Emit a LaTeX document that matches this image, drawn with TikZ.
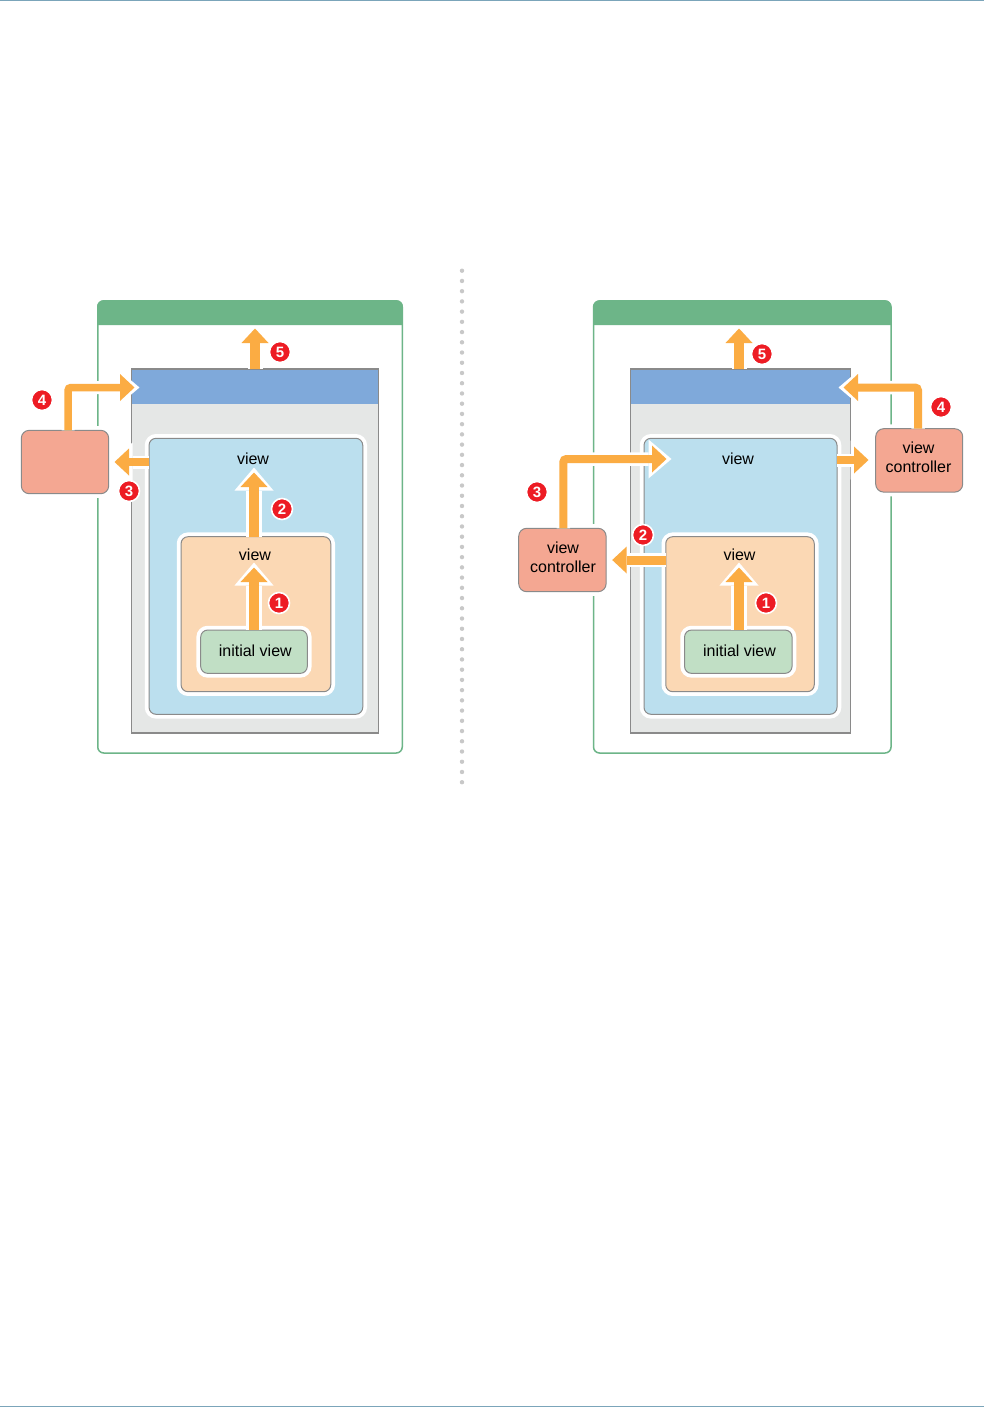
\documentclass[tikz,border=0pt]{standalone}
\usepackage{fontspec}
\setmainfont{Liberation Sans}
\usetikzlibrary{arrows.meta}
\definecolor{winG}{HTML}{6DB588}
\definecolor{edgeG}{HTML}{8A8A8A}
\definecolor{panelG}{HTML}{E5E7E6}
\definecolor{barB}{HTML}{7FA9DA}
\definecolor{viewB}{HTML}{BBDFEE}
\definecolor{viewO}{HTML}{FBD8B4}
\definecolor{viewG}{HTML}{C1DFC5}
\definecolor{ctrlR}{HTML}{F4A792}
\definecolor{flowO}{HTML}{FBAC43}
\definecolor{badgeR}{HTML}{ED1C24}
\definecolor{ruleB}{HTML}{7BA5BA}
\definecolor{dotG}{HTML}{C8C8C8}
\tikzset{
  sized/.style 2 args={minimum width=#1, minimum height=#2, inner sep=0pt, outer sep=0pt},
  winbox/.style={draw=winG, line width=1.5pt, fill=white, rounded corners=6pt},
  panelbox/.style={draw=edgeG, line width=1.2pt, fill=panelG},
  barbox/.style={fill=barB},
  haloed/.style={draw=edgeG, line width=1pt, rounded corners=7pt,
    preaction={draw=white, line width=8.5pt, rounded corners=7pt}},
  ctrlbox/.style={haloed, fill=ctrlR, rounded corners=8pt},
  label/.style={font=\fontsize{16}{19}\selectfont, align=center, inner sep=0pt},
  badge/.style={circle, fill=badgeR, draw=white, line width=1.6pt, minimum size=21pt, inner sep=0pt,
    text=white, font=\bfseries\fontsize{15}{15}\selectfont},
  flowhalo/.style={white, line width=#1+5.5pt, rounded corners=3pt, shorten >=-4.5pt,
    -{Triangle[width=39pt,length=23pt,line width=0pt]}},
  flowline/.style={flowO, line width=#1, rounded corners=3pt, shorten >=0.5pt,
    -{Triangle[width=27pt,length=14.5pt,line width=0pt]}},
}
\newcommand{\flowpath}[2]{%
  \draw[flowhalo=#1] #2;
  \draw[flowline=#1] #2;
}
\begin{document}
\begin{tikzpicture}[x=1pt,y=-1pt]
\useasboundingbox (0,0) rectangle (984,1407);
\fill[white] (0,0) rectangle (984,1407);
\fill[ruleB] (0,0) rectangle (984,1);
\fill[ruleB] (0,1406) rectangle (984,1407);

% divider
\draw[dotG, line width=4.4pt, line cap=round, dash pattern=on 0pt off 10.23pt] (462,270.7) -- (462,783);

% LEFT
\node[winbox, sized={304.5pt}{452pt}] (lwin) at (250,527) {};
\node[panelbox, sized={247pt}{364pt}] (lpanel) at (255.2,551) {};
\node[barbox, sized={245.5pt}{34.3pt}] (lbar) at (255.2,386.9) {};
\node[haloed, fill=viewB, sized={213.7pt}{276pt}] (lblue) at (255.9,576.3) {};
\node[haloed, fill=viewO, sized={149.7pt}{155pt}] (lorange) at (255.9,614.2) {};
\node[haloed, fill=viewG, sized={106.6pt}{43.3pt}] (lgreen) at (254,651.7) {};
\node[ctrlbox, sized={87.4pt}{63.4pt}] (lctrl) at (65,462) {};

\node[label] (lv1) at (253,459) {view};
\node[label] (lv2) at (255,555) {view};
\node[label] (lv3) at (255.3,651) {initial view};

\coordinate (lt1) at (254,567);
\coordinate (lt2) at (254,472);
\coordinate (lt3) at (114,462);
\coordinate (lt4) at (135,387.5);
\coordinate (lt5) at (255,328);
\flowpath{10pt}{(lgreen.north) -- (lt1)}
\flowpath{10pt}{(lorange.north -| lt2) -- (lt2)}
\flowpath{7.5pt}{(lblue.west |- lt3) -- (lt3)}
\flowpath{7.5pt}{([xshift=3pt]lctrl.north) |- (lt4)}
\flowpath{9.5pt}{(lpanel.north -| lt5) -- (lt5)}
\fill[winG] (97.2,325) {[rounded corners=6pt] -- (97.2,300.2) -- (402.8,300.2)} -- (402.8,325) -- cycle;

\node[badge] (lb1) at (279,603) {1};
\node[badge] (lb2) at (282,509) {2};
\node[badge] (lb3) at (129,491) {3};
\node[badge] (lb4) at (42,400) {4};
\node[badge] (lb5) at (280,352) {5};

% RIGHT
\node[winbox, sized={297.5pt}{452pt}] (rwin) at (742.3,527) {};
\node[panelbox, sized={220.5pt}{364pt}] (rpanel) at (740.5,551) {};
\node[barbox, sized={219pt}{34.3pt}] (rbar) at (740.5,386.9) {};
\node[haloed, fill=viewB, sized={193pt}{276pt}] (rblue) at (740.5,576.3) {};
\node[haloed, fill=viewO, sized={148.5pt}{155pt}] (rorange) at (740,614.2) {};
\node[haloed, fill=viewG, sized={107.5pt}{43.3pt}] (rgreen) at (738.3,651.7) {};
\node[ctrlbox, sized={87.4pt}{63.4pt}] (rctrl1) at (562.4,560) {};
\node[ctrlbox, sized={87pt}{63.4pt}] (rctrl2) at (919.2,460.4) {};

\node[label] (rc1) at (563,557.5) {view\\controller};
\node[label] (rc2) at (918.5,457.5) {view\\controller};
\node[label] (rv1) at (738,459) {view};
\node[label] (rv2) at (739.5,555) {view};
\node[label] (rv3) at (739.5,651) {initial view};

\coordinate (rt1) at (739,567);
\coordinate (rt2) at (611.7,560);
\coordinate (rt3) at (667,459);
\coordinate (rt4) at (843,387.5);
\coordinate (rt5) at (739,328);
\coordinate (rt6) at (869,460);
\flowpath{10pt}{(rgreen.north -| rt1) -- (rt1)}
\flowpath{9pt}{(rorange.west |- rt2) -- (rt2)}
\flowpath{8pt}{([xshift=1pt]rctrl1.north) |- (rt3)}
\flowpath{8pt}{([xshift=-1.2pt]rctrl2.north) |- (rt4)}
\flowpath{9.5pt}{(rpanel.north -| rt5) -- (rt5)}
\flowpath{7.5pt}{(rblue.east |- rt6) -- (rt6)}
\fill[winG] (593.5,325) {[rounded corners=6pt] -- (593.5,300.2) -- (891,300.2)} -- (891,325) -- cycle;

\node[badge] (rb1) at (766,603) {1};
\node[badge] (rb2) at (643,535) {2};
\node[badge] (rb3) at (537,492) {3};
\node[badge] (rb4) at (941,407) {4};
\node[badge] (rb5) at (762,354) {5};
\end{tikzpicture}
\end{document}
